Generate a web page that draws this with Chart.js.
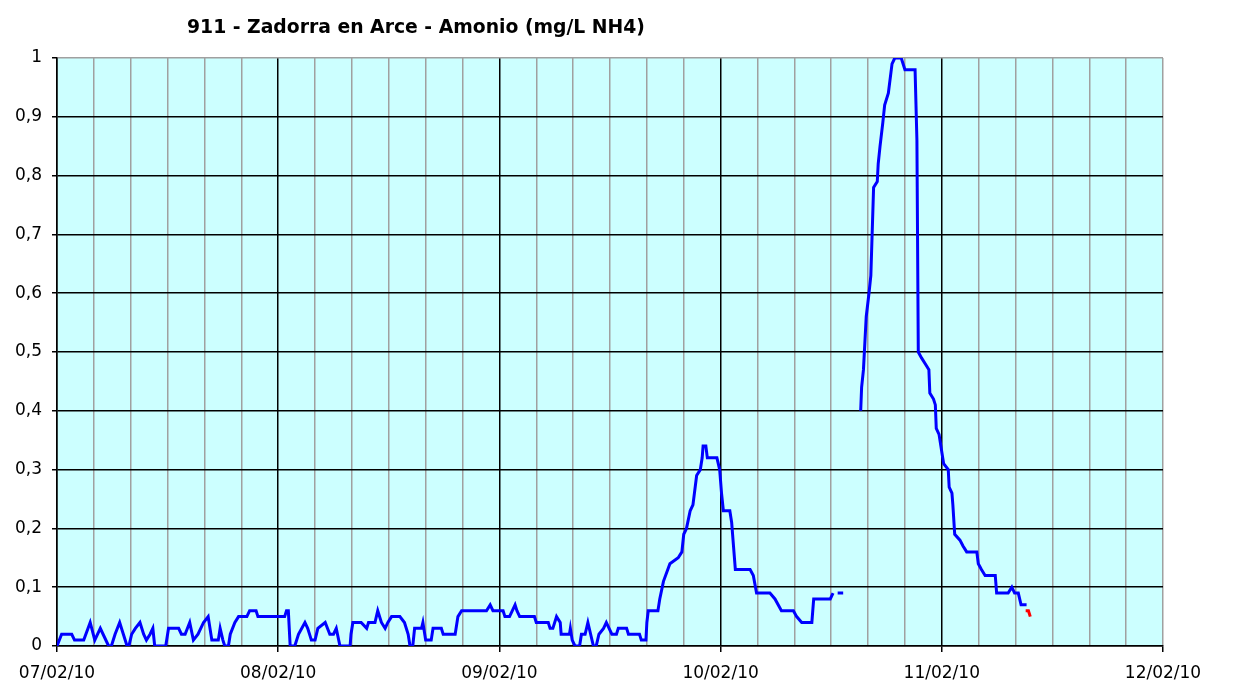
<!DOCTYPE html>
<html>
<head>
<meta charset="utf-8">
<script src="https://cdn.jsdelivr.net/npm/chart.js@4.4.1/dist/chart.umd.min.js"></script>
<style>
  body { margin: 0; background: #fff; }
  canvas { display: block; }
</style>
</head>
<body>
<canvas id="myChart" width="1240" height="689"></canvas>
<script>
const ctx = document.getElementById('myChart');

const chartTitle = '911 - Zadorra en Arce - Amonio (mg/L NH4)';
const dayLabels = ['07/02/10', '08/02/10', '09/02/10', '10/02/10', '11/02/10', '12/02/10'];
const yLabels = ['0', '0,1', '0,2', '0,3', '0,4', '0,5', '0,6', '0,7', '0,8', '0,9', '1'];

// hours since 07/02/10 00:00
const hours = [
  0, 0.5, 1.6, 1.9, 2.9, 3.6, 4.1, 4.7, 5.0, 5.6, 5.9, 6.3, 6.8, 7.2, 7.6, 7.8, 8.1, 8.5, 9.0, 9.4,
  9.7, 10.1, 10.4, 10.6, 11.8, 12.1, 13.2, 13.5, 13.9, 14.4, 14.8, 15.3, 15.9, 16.4, 16.8, 17.5, 17.7, 18.0, 18.2, 18.6,
  18.8, 19.3, 19.7, 20.6, 20.9, 21.6, 21.8, 24.7, 24.9, 25.1, 25.3, 25.8, 26.2, 26.9, 27.2, 27.6, 28.0, 28.3, 29.1, 29.6,
  30.0, 30.3, 30.7, 31.8, 31.9, 32.1, 33.0, 33.6, 33.8, 34.5, 34.8, 35.2, 35.6, 35.9, 36.3, 37.2, 37.7, 38.1, 38.3, 38.6,
  38.8, 39.55, 39.7, 40.0, 40.6, 40.8, 41.7, 41.9, 43.2, 43.5, 43.9, 46.6, 47.0, 47.3, 48.4, 48.6, 49.1, 49.7, 49.9, 50.2,
  51.8, 52.0, 53.3, 53.5, 53.8, 54.2, 54.6, 54.7, 55.6, 55.7, 55.9, 56.2, 56.7, 56.9, 57.3, 57.6, 57.9, 58.2, 58.5, 58.8,
  59.3, 59.6, 60.2, 60.7, 60.9, 61.8, 62.0, 63.2, 63.4, 63.9, 64.0, 64.15, 65.2, 65.4, 65.8, 66.5, 67.4, 67.8, 68.0, 68.3,
  68.7, 69.0, 69.4, 69.8, 70.0, 70.1, 70.4, 70.56, 71.6, 71.9, 72.1, 72.3, 73.0, 73.2, 73.4, 73.6, 75.2, 75.55, 75.9, 76.3,
  77.35, 77.9, 78.6, 79.9, 80.25, 80.8, 81.9, 82.1, 82.4, 83.9, 84.2, 84.45, 84.7, 85.3, 86.0,
  87.2, 87.3, 87.5, 87.8, 88.1, 88.3, 88.6, 89.0, 89.1, 89.3, 89.6, 89.8, 90.2, 90.6, 90.9, 91.6, 92.0, 93.1, 93.2, 93.3,
  93.45, 93.8, 94.2, 94.6, 94.7, 95.1, 95.3, 95.4, 95.7, 96.0, 96.2, 96.7, 96.8, 97.1, 97.2, 97.4, 97.97, 98.3, 98.7, 99.8,
  99.96, 100.3, 100.7, 101.8, 101.95, 102.2, 103.2, 103.6, 103.9, 104.3, 104.6, 105.2
];

const amonio = [
  0, 0.02, 0.02, 0.01, 0.01, 0.04, 0.01, 0.03, 0.02, 0, 0, 0.02, 0.04, 0.02, 0, 0, 0.02, 0.03, 0.04, 0.02,
  0.01, 0.02, 0.03, 0, 0, 0.03, 0.03, 0.02, 0.02, 0.04, 0.01, 0.02, 0.04, 0.05, 0.01, 0.01, 0.03, 0.01, 0, 0,
  0.02, 0.04, 0.05, 0.05, 0.06, 0.06, 0.05, 0.05, 0.06, 0.06, 0, 0, 0.02, 0.04, 0.03, 0.01, 0.01, 0.03, 0.04, 0.02,
  0.02, 0.03, 0, 0, 0.02, 0.04, 0.04, 0.03, 0.04, 0.04, 0.06, 0.04, 0.03, 0.04, 0.05, 0.05, 0.04, 0.02, 0, 0,
  0.03, 0.03, 0.04, 0.01, 0.01, 0.03, 0.03, 0.02, 0.02, 0.05, 0.06, 0.06, 0.07, 0.06, 0.06, 0.05, 0.05, 0.07, 0.06, 0.05,
  0.05, 0.04, 0.04, 0.03, 0.03, 0.05, 0.04, 0.02, 0.02, 0.03, 0.01, 0, 0, 0.02, 0.02, 0.04, 0.02, 0, 0, 0.02,
  0.03, 0.04, 0.02, 0.02, 0.03, 0.03, 0.02, 0.02, 0.01, 0.01, 0.04, 0.06, 0.06, 0.08, 0.11, 0.14, 0.15, 0.16, 0.19, 0.2,
  0.23, 0.24, 0.29, 0.30, 0.32, 0.34, 0.34, 0.32, 0.32, 0.30, 0.26, 0.23, 0.23, 0.21, 0.17, 0.13, 0.13, 0.12, 0.09, 0.09,
  0.09, 0.08, 0.06, 0.06, 0.05, 0.04, 0.04, 0.08, 0.08, 0.08, 0.09, null, 0.09, 0.09, null,
  0.40, 0.44, 0.47, 0.56, 0.60, 0.63, 0.78, 0.79, 0.82, 0.85, 0.89, 0.92, 0.94, 0.99, 1.0, 1.0, 0.98, 0.98, 0.98, 0.86,
  0.50, 0.49, 0.48, 0.47, 0.43, 0.42, 0.41, 0.37, 0.36, 0.33, 0.31, 0.30, 0.27, 0.26, 0.24, 0.19, 0.18, 0.17, 0.16, 0.16,
  0.14, 0.13, 0.12, 0.12, 0.09, 0.09, 0.09, 0.10, 0.09, 0.09, 0.07, 0.07
];

// last readings, drawn in red
const hoursRed = [105.1, 105.4, 105.6];
const amonioRed = [0.06, 0.06, 0.05];

const plotBg = {
  id: 'plotBg',
  beforeDraw(chart) {
    const a = chart.chartArea;
    const c = chart.ctx;
    c.save();
    c.fillStyle = '#CCFFFF';
    c.fillRect(a.left, a.top, a.right - a.left, a.bottom - a.top);
    c.restore();
  }
};

const titleText = {
  id: 'titleText',
  afterDraw(chart) {
    const c = chart.ctx;
    c.save();
    c.font = 'bold 18.8px "DejaVu Sans"';
    c.fillStyle = '#000';
    c.textAlign = 'left';
    c.textBaseline = 'middle';
    c.fillText(chartTitle, 187, 28);
    c.restore();
  }
};

function creatChart() {
  new Chart(ctx, {
    type: 'line',
    data: {
      datasets: [{
        data: hours.map((h, i) => ({ x: h, y: amonio[i] })),
        borderColor: '#0000FF',
        borderWidth: 3,
        pointRadius: 0,
        tension: 0,
        spanGaps: false
      }, {
        data: hoursRed.map((h, i) => ({ x: h, y: amonioRed[i] })),
        borderColor: '#FF0000',
        borderWidth: 3,
        pointRadius: 0,
        tension: 0
      }]
    },
    options: {
      responsive: false,
      animation: false,
      devicePixelRatio: 1,
      layout: { padding: { left: 0, top: 58, right: 77, bottom: 0 } },
      plugins: {
        legend: { display: false },
        tooltip: { enabled: false },
        title: { display: false }
      },
      scales: {
        x: {
          type: 'linear',
          min: 0,
          max: 120,
          afterFit(scale) { scale.height = 43; },
          ticks: {
            stepSize: 4,
            autoSkip: false,
            maxRotation: 0,
            padding: 11,
            color: '#000',
            font: { family: 'DejaVu Sans', size: 17 },
            callback: (v) => (v % 24 === 0 ? dayLabels[v / 24] : '')
          },
          grid: {
            color: (c) => (c.tick && c.tick.value % 24 === 0 && c.tick.value !== 120 ? '#000' : '#A0A0A0'),
            lineWidth: 1.5,
            tickLength: 6,
            tickColor: (c) => (c.tick && c.tick.value % 24 === 0 ? '#000' : 'rgba(0,0,0,0)')
          },
          border: { color: '#000', width: 1.5 }
        },
        y: {
          min: 0,
          max: 1,
          afterFit(scale) { scale.width = 57; },
          ticks: {
            stepSize: 0.1,
            padding: 10,
            color: '#000',
            font: { family: 'DejaVu Sans', size: 17 },
            callback: (v, i) => yLabels[i]
          },
          grid: {
            color: (c) => (c.index === 10 ? '#A0A0A0' : '#000'),
            lineWidth: 1.5,
            tickLength: 5,
            tickColor: '#000'
          },
          border: { color: '#000', width: 1.5 }
        }
      }
    },
    plugins: [plotBg, titleText]
  });
}

creatChart();
</script>
</body>
</html>
